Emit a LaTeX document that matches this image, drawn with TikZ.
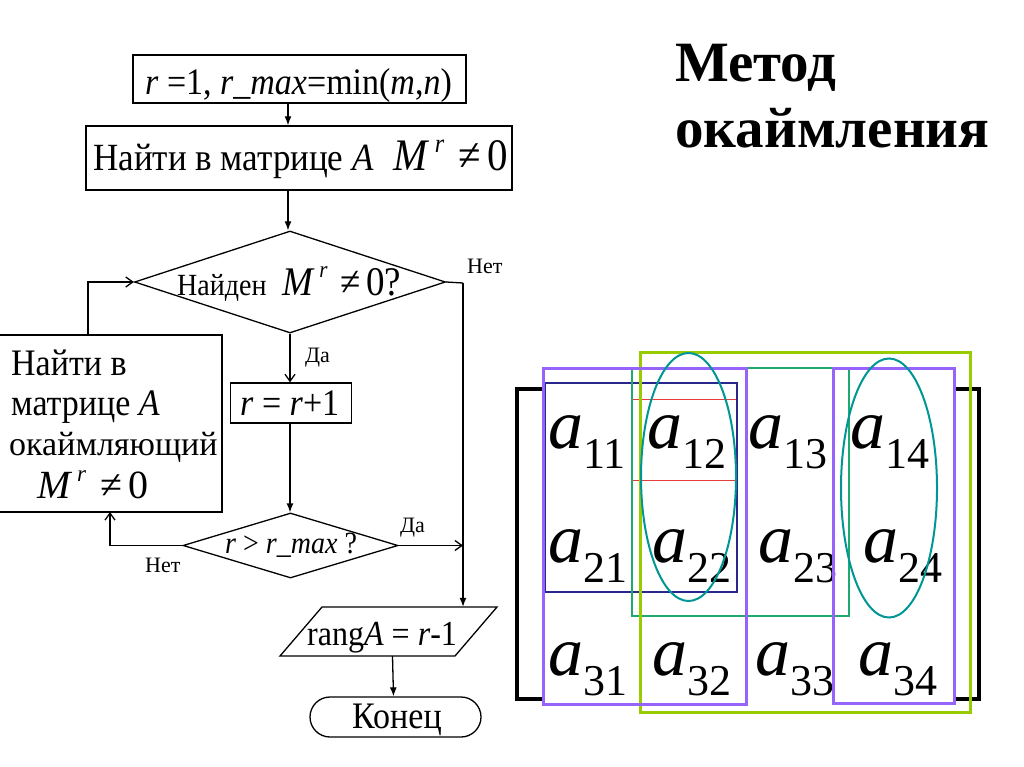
\documentclass[tikz,border=0pt]{standalone}
\usepackage{fontspec}
\usepackage{graphicx}
\setmainfont{Liberation Serif}
\usetikzlibrary{shapes.geometric,arrows.meta}
\newcommand{\fsz}[1]{\fontsize{#1}{#1}\selectfont}
\newcommand{\vs}[1]{\scalebox{1}[1.1]{#1}}
\newcommand{\Mnz}[2]{\fsz{#1}\textit{M}\hspace{0.12em}\raisebox{0.42em}{\fsz{#2}\textit{r}}\hspace{0.35em}≠\hspace{0.15em}0}
\newcommand{\ent}[2]{{\fsz{70}\textit{a}}\raisebox{-20pt}{\fsz{44}#2}}
\definecolor{purp}{RGB}{150,100,250}
\definecolor{lime}{RGB}{153,204,0}
\definecolor{grn}{RGB}{30,170,110}
\definecolor{dblue}{RGB}{40,40,140}
\definecolor{redl}{RGB}{230,60,60}
\definecolor{tealc}{RGB}{0,150,150}
\tikzset{
  box/.style={draw, line width=1.3pt, inner sep=0pt},
  txt/.style={anchor=base west, inner sep=0pt},
  lbl/.style={anchor=base west, inner sep=0pt, font=\fsz{22}},
  line/.style={line width=1.3pt},
  arr/.style={line width=1.3pt, -{Straight Barb[length=7pt,width=10pt]}},
  farr/.style={line width=1.3pt, -{Latex[length=9pt,width=7pt]}},
  ent/.style={anchor=base west, inner sep=0pt},
}
\begin{document}
\begin{tikzpicture}[x=1pt,y=-1pt]
\useasboundingbox (0,0) rectangle (1024,767);
\fill[white] (0,0) rectangle (1024,767);
% title
\node[txt, font=\fsz{57}\bfseries] (t1) at (675,82) {Метод};
\node[txt, font=\fsz{57}\bfseries] (t2) at (675,148) {окаймления};
% flowchart shapes
\node[box, minimum width=333, minimum height=48] (b1) at (299.5,79) {};
\node[txt, font=\fsz{34}] (b1t) at (145,95) {\vs{\textit{r} =1, \textit{r\_max}=min(\textit{m},\textit{n})}};
\node[box, minimum width=426, minimum height=64] (b2) at (299,158) {};
\node[txt] (b2t) at (93,171) {\vs{{\fsz{35}Найти в матрице \textit{A}}\hspace{20pt}{\Mnz{41}{24}}}};
\node[diamond, draw, line width=1.3pt, minimum width=311, minimum height=102, inner sep=0pt] (d1) at (290,282) {};
\node[txt] (d1t) at (177,295) {\vs{{\fsz{28}Найден}\hspace{16pt}{\Mnz{37}{21}?}}};
\node[box, minimum width=121, minimum height=40] (b3) at (291,403) {};
\node[txt, font=\fsz{34}] (b3t) at (240,415) {\vs{\textit{r} = \textit{r}+1}};
\node[diamond, draw, line width=1.3pt, minimum width=215, minimum height=65, inner sep=0pt] (d2) at (290.5,545.5) {};
\node[txt, font=\fsz{28}] (d2t) at (225,553) {\vs{\textit{r} > \textit{r\_max} ?}};
\draw[line width=1.3pt] (-3,335) rectangle (222,512);
\node[inner sep=0pt, minimum width=225, minimum height=177] (b4) at (109.5,423.5) {};
\node[txt, font=\fsz{34}] (b4a) at (11,375) {\vs{Найти в}};
\node[txt, font=\fsz{34}] (b4b) at (11,415) {\vs{матрице \textit{A}}};
\node[txt, font=\fsz{34}] (b4c) at (9,455) {окаймляющий};
\node[txt] (b4d) at (37,498) {\Mnz{40}{23}};
\node[inner sep=0pt, minimum width=175, minimum height=49] (pa) at (388.5,631.5) {};
\draw[line width=1.3pt] (280,656) -- (322,607) -- (497,607) -- (455,656) -- cycle;
\node[txt, font=\fsz{32}] (pat) at (307,645) {\vs{rang\textit{A} = \textit{r}-1}};
\node[box, rounded corners=20pt, minimum width=171, minimum height=40] (en) at (395.5,717) {};
\node[txt, font=\fsz{34}] (ent) at (352,728) {\vs{Конец}};
% labels
\node[lbl] (l1) at (467,273) {Нет};
\node[lbl] (l2) at (305,362) {Да};
\node[lbl] (l3) at (400,532) {Да};
\node[lbl] (l4) at (145,572) {Нет};
% connectors
\coordinate (c1) at (463,283);
\coordinate (cx) at (288,0);
\draw[farr] (b1.south -| cx) -- (b2.north -| cx);
\draw[farr] (b2.south -| cx) -- (d1.north -| cx);
\draw[line] (d1.east) -- (c1);
\draw[farr] (c1) -- (c1 |- pa.north);
\draw[arr] (d1.south) -- (b3.north -| d1.south);
\draw[farr] (b3.south -| d1.south) -- (d2.north -| d1.south);
\draw[arr] (d2.east) -- (d2.east -| c1);
\draw[arr] (d2.west) -| (110,512);
\draw[arr] (88,335) |- (d1.west);
\draw[farr] ([xshift=4pt]pa.south) -- ([xshift=-2pt]en.north);
% matrix
\draw[line width=3.5pt] (543,389) -- (517,389) -- (517,699) -- (543,699);
\draw[line width=3.5pt] (955,389) -- (979,389) -- (979,699) -- (955,699);
\node[ent] (a11) at (548,448) {\ent{a}{11}};
\node[ent] (a12) at (647,448) {\ent{a}{12}};
\node[ent] (a13) at (748,448) {\ent{a}{13}};
\node[ent] (a14) at (850,448) {\ent{a}{14}};
\node[ent] (a21) at (548,562) {\ent{a}{21}};
\node[ent] (a22) at (652,562) {\ent{a}{22}};
\node[ent] (a23) at (758,562) {\ent{a}{23}};
\node[ent] (a24) at (863,562) {\ent{a}{24}};
\node[ent] (a31) at (548,675) {\ent{a}{31}};
\node[ent] (a32) at (652,675) {\ent{a}{32}};
\node[ent] (a33) at (755,675) {\ent{a}{33}};
\node[ent] (a34) at (858,675) {\ent{a}{34}};
\draw[dblue, line width=1.5pt] (545,383) rectangle (737,592);
\draw[redl, line width=1pt] (633,399) -- (736,399);
\draw[redl, line width=1pt] (633,480) -- (736,480);
\draw[grn, line width=2pt] (632,368) rectangle (849,616);
\draw[lime, line width=3pt] (640,352) rectangle (970,712);
\draw[purp, line width=3pt] (543,368) rectangle (746,704);
\draw[purp, line width=3pt] (833,368) rectangle (954,703);
\draw[tealc, line width=2pt] (688.5,477) ellipse [x radius=47.5, y radius=124];
\draw[tealc, line width=2pt] (889,488) ellipse [x radius=48, y radius=129.5];
\end{tikzpicture}
\end{document}
